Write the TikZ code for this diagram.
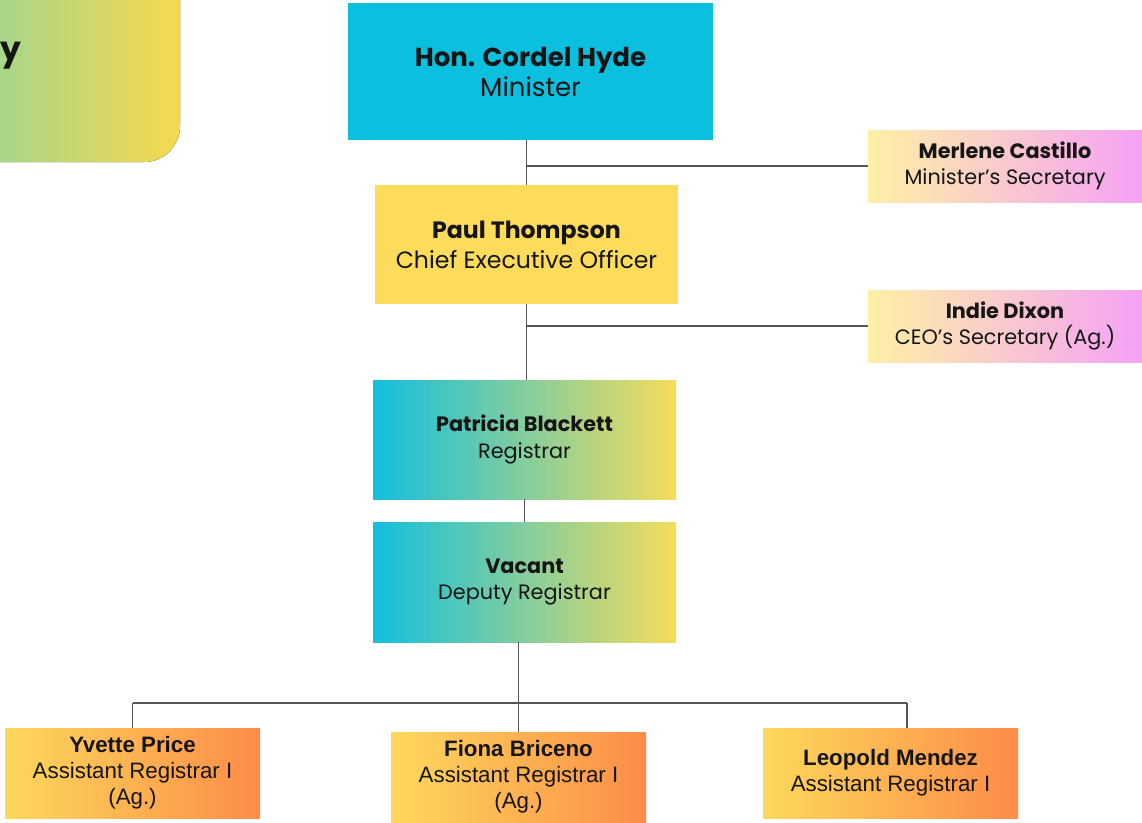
\documentclass[tikz,border=0pt]{standalone}
\usepackage{fontspec}
\setmainfont{Poppins}
\newfontfamily\arialf{Liberation Sans}
\definecolor{lineC}{HTML}{555555}
\definecolor{cyanC}{HTML}{0BBFDF}
\definecolor{yelC}{HTML}{FDDC5C}
\definecolor{paleY}{HTML}{FEF0A6}
\definecolor{pinkM}{HTML}{F9CFD2}
\definecolor{pinkR}{HTML}{F5A2F6}
\definecolor{gcyan}{HTML}{12BFDF}
\definecolor{ggreen}{HTML}{8FD49A}
\definecolor{gyel}{HTML}{F6DC5C}
\definecolor{oyel}{HTML}{FDD85C}
\definecolor{oor}{HTML}{FD8C48}
\definecolor{tlL}{HTML}{8DD59E}
\definecolor{tlR}{HTML}{F8D84E}
\definecolor{txt}{HTML}{151515}
\tikzset{
  box/.style={rectangle, inner sep=0pt, align=center, text=txt},
  conn/.style={draw=lineC, line width=1.3pt},
  cyanbox/.style={box, fill=cyanC, font=\fontsize{26}{30}\selectfont},
  yelbox/.style={box, fill=yelC, font=\fontsize{23.6}{30}\selectfont},
  secbox/.style={box, left color=paleY, middle color=pinkM, right color=pinkR, font=\fontsize{20.8}{26.5}\selectfont},
  regbox/.style={box, left color=gcyan, middle color=ggreen, right color=gyel, font=\fontsize{20.8}{26.5}\selectfont},
  arbox/.style={box, left color=oyel, right color=oor, font=\arialf\fontsize{22.3}{26}\selectfont}
}
\begin{document}
\begin{tikzpicture}[x=1pt,y=-1pt]
\useasboundingbox (0,0) rectangle (1142,822);
% title box (cut off at the left)
\fill[left color=tlL, right color=tlR, rounded corners=36pt] (-60,-60) rectangle (180,162);
\node[anchor=base west, inner sep=0pt, text=txt, font=\bfseries\fontsize{33}{40}\selectfont] (ttl) at (0.5,60) {y};
% boxes
\node[cyanbox, minimum width=365pt, minimum height=137pt] (min) at (530.5,71.5) {\textbf{Hon. Cordel Hyde}\\Minister};
\node[yelbox, minimum width=303pt, minimum height=119pt] (ceo) at (526.5,244.5) {\textbf{Paul Thompson}\\Chief Executive Officer};
\node[secbox, minimum width=274pt, minimum height=72pt] (msec) at (1005,166) {\textbf{Merlene Castillo}\\Minister’s Secretary};
\node[secbox, minimum width=274pt, minimum height=72pt] (csec) at (1005,326) {\textbf{Indie Dixon}\\CEO’s Secretary (Ag.)};
\node[regbox, minimum width=303pt, minimum height=119pt] (reg) at (524.5,439.5) {\textbf{Patricia Blackett}\\Registrar};
\node[regbox, minimum width=303pt, minimum height=120pt] (dep) at (524.5,582) {\textbf{Vacant}\\Deputy Registrar};
\node[arbox, minimum width=255pt, minimum height=90pt] (yv) at (132.5,773) {\textbf{Yvette Price}\\Assistant Registrar I\\(Ag.)};
\node[arbox, minimum width=255pt, minimum height=90pt] (fi) at (518.5,777) {\textbf{Fiona Briceno}\\Assistant Registrar I\\(Ag.)};
\node[arbox, minimum width=255pt, minimum height=90pt] (le) at (890.5,773) {\textbf{Leopold Mendez}\\Assistant Registrar I};
% connectors
\coordinate (bar) at (520,703);
\coordinate (ledrop) at ([xshift=16.5pt]le.north);
\draw[conn] (ceo.north |- min.south) -- (ceo.north);
\draw[conn] (ceo.north |- msec.west) -- (msec.west);
\draw[conn] (ceo.south) -- (ceo.south |- reg.north);
\draw[conn] (ceo.south |- csec.west) -- (csec.west);
\draw[conn] (reg.south) -- (dep.north);
\draw[conn] (fi.north |- dep.south) -- (fi.north);
\draw[conn] (yv.north |- bar) -- (ledrop |- bar);
\draw[conn] (yv.north |- bar) -- (yv.north);
\draw[conn] (ledrop |- bar) -- (ledrop);
\end{tikzpicture}
\end{document}
